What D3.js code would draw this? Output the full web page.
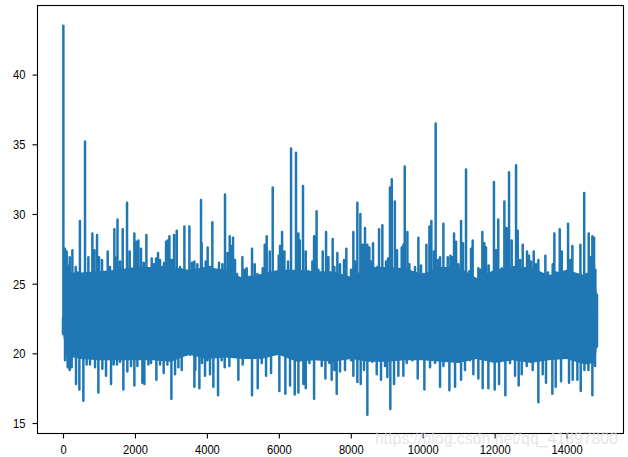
<!DOCTYPE html>
<html><head><meta charset="utf-8">
<script src="https://cdn.jsdelivr.net/npm/d3@7/dist/d3.min.js"></script>
<style>
html,body{margin:0;padding:0;background:#fff}
svg{display:block}
.tick text{font-family:"Liberation Sans",Arial,sans-serif;font-size:13.5px;fill:#000}
</style></head><body><div id="chart"></div>
<script>
// Upper envelope of the signal
const upperIndex=[10,56,102,130,186,260,306,353,408,470,566,612,705,751,816,872,946,1002,1085,1141,1243,1307,1354,1428,1484,1515,1586,1660,1715,1780,1854,1929,1984,2040,2096,2170,2244,2318,2392,2466,2531,2587,2642,2698,2754,2809,2865,2911,2958,3023,3088,3162,3254,3310,3375,3449,3514,3588,3653,
3735,3837,3855,3902,3967,4022,4087,4152,4226,4337,4430,4504,4578,4634,4671,4727,4782,4838,4940,4987,5051,5107,5181,5255,5330,5404,5552,5608,5663,5747,5830,5895,5997,6034,6090,6155,6256,6340,6477,6544,6581,6636,6672,6748,6822,6933,6980,7050,7100,7146,7220,7313,7378,
7497,7544,7627,7701,7812,7877,7951,8007,8072,8118,8183,8267,8331,8396,8461,8517,8554,8619,8684,8739,8786,8878,8980,9036,9090,9140,9225,9286,9342,9416,9462,9500,9574,9630,9722,9787,9880,9954,10028,10102,10186,10241,10315,10360,10427,10482,10575,10649,10695,10770,10825,10871,10927,10992,11066,11120,
11204,11297,11343,11389,11454,11547,11612,11658,11714,11760,11834,11890,11980,12038,12100,12196,12270,12335,12400,12474,12539,12595,12641,12706,12780,12845,12900,12956,13011,13086,13150,13215,13290,13355,13410,13484,13540,13614,13660,13725,13809,13865,13929,14041,14096,14161,14254,14319,14384,14448,14490,14560,14615,14671,14717,14764,14800,14845];
const upperValue=[43.5,27.5,27.3,26.3,26.9,27.4,25.5,26.2,25.8,29.5,25.2,35.2,26.9,25.6,28.6,27.4,28.5,26.9,26.7,25.4,27.3,26.2,25.6,28.9,26.9,29.6,26.6,28.9,25.0,30.8,27.3,25.7,28.6,28.0,28.1,27.5,26.5,28.5,25.4,26.8,26.4,26.8,27.2,26.7,26.2,26.5,28.0,28.1,28.4,26.7,28.5,28.8,26.2,26.0,29.1,25.7,29.1,26.5,26.6,
26.4,31.0,27.9,26.1,26.6,27.6,26.2,29.4,25.4,26.5,26.4,31.4,27.2,28.4,27.7,28.3,26.7,25.7,24.8,26.9,26.0,26.1,25.5,27.5,26.4,25.7,26.1,27.8,28.4,27.3,31.9,25.2,27.0,27.7,28.7,27.3,26.6,34.7,34.4,28.6,28.1,25.7,32.0,27.3,25.9,26.6,28.4,30.2,26.0,25.4,27.3,28.7,26.9,
28.2,26.2,27.2,26.4,26.7,27.5,25.1,26.0,28.7,26.6,30.8,30.0,27.8,29.0,27.8,27.6,26.6,27.9,25.6,26.2,28.9,29.2,26.6,26.8,31.9,32.5,30.9,27.4,25.1,27.6,27.8,33.4,28.7,26.4,24.6,26.2,28.3,26.3,25.7,27.8,29.1,29.5,27.3,36.5,26.7,26.9,29.3,25.7,26.9,27.0,26.9,28.6,28.0,26.4,29.5,27.9,
33.2,25.9,27.5,28.1,24.8,26.1,26.0,28.7,27.9,27.6,26.3,25.5,32.3,27.4,29.6,26.1,30.9,29.0,33.0,28.1,26.2,33.5,28.8,26.7,27.8,26.0,27.3,27.0,26.6,27.3,26.4,26.7,24.6,25.6,27.0,25.8,25.2,26.4,28.6,25.8,28.9,27.3,25.2,29.3,26.7,27.7,25.5,24.9,27.8,24.9,31.5,25.7,28.6,26.9,28.4,28.3,26.0,24.2];
// Lower envelope of the signal
const lowerIndex=[0,56,130,186,241,362,455,566,658,751,890,983,1094,1196,1335,1410,1502,1586,1678,1789,1891,1984,2068,2207,2262,2373,2447,2596,2698,2799,2902,3013,3115,3208,3300,3440,3532,3653,
3679,3791,3865,3948,4013,4087,4180,4310,4412,4495,4625,4764,4875,4996,5107,5255,5413,5524,5645,5784,5904,6015,6182,6312,6442,6544,6683,6748,6850,6980,7081,7193,7295,7406,
7469,7544,7609,7701,7840,8007,8072,8183,8276,8368,8461,8600,8721,8841,8953,9017,9100,9203,9323,9462,9555,9713,9861,10046,10204,10343,10482,10575,10742,10899,11066,
11176,11315,11408,11547,11667,11825,12001,12122,12298,12427,12567,12668,12752,12891,13058,13215,13336,13428,13604,13697,13846,13939,14068,14170,14300,14393,14495,14606,14717,14791,14845];
const lowerValue=[21.4,19.5,19.0,18.8,19.0,17.8,17.4,16.6,19.2,19.2,19.0,17.2,18.9,18.4,17.8,19.2,19.2,19.4,17.4,18.7,19.1,17.7,19.1,17.9,17.8,19.2,19.3,18.1,19.2,18.6,19.2,16.75,18.5,19.0,18.8,19.9,19.9,17.6,
18.8,17.5,19.3,18.4,19.5,18.5,17.6,17.0,19.5,19.0,19.1,20.0,18.1,19.2,20.1,17.0,17.5,19.3,18.4,18.6,20.0,17.3,17.1,17.7,17.05,17.2,17.8,17.5,19.3,16.75,19.6,19.1,18.2,19.3,
18.1,18.8,17.1,18.7,18.8,19.5,18.4,17.95,17.8,18.8,15.6,19.4,18.5,18.1,19.1,18.3,16.0,17.8,18.4,18.4,19.3,19.5,18.2,17.4,19.0,19.3,17.6,19.1,17.35,17.6,18.1,
18.8,19.5,18.5,18.2,17.5,17.5,17.4,17.8,17.0,19.3,18.4,17.7,18.5,19.1,18.8,16.5,18.5,17.9,17.1,17.6,18.0,19.7,17.9,18.1,18.1,17.3,18.8,18.8,17.0,19.1,20.5];
// Always-filled core band of the signal
const coreIndex=[0,100,500,1000,1500,2000,2500,3000,3500,4000,4500,5000,5500,6000,6500,7000,7500,8000,8500,9000,9500,10000,10500,11000,11500,12000,12500,13000,13500,14000,14500,14790,14845];
const coreHigh=[24.8,25.8,25.8,25.9,26,26.2,26.2,26.2,26,26.2,26,25.4,25.7,26,26,25.9,25.9,25.5,26.2,26.2,26.1,25.7,26.2,26.2,25.4,26,26.2,26.2,25.6,26,25.6,25.2,24.2];
const coreLow=[21.4,19.8,19.6,19.5,19.5,19.5,19.5,19.4,19.9,19.6,19.7,19.6,19.6,19.9,19.4,19.5,19.4,19.6,19.4,19.4,19.5,19.5,19.4,19.3,19.6,19.3,19.5,19.3,19.5,19.6,19.2,19.3,20.5];
const xTicks=[0,2000,4000,6000,8000,10000,12000,14000];
const yTicks=[15,20,25,30,35,40];
const watermark="https://blog.csdn.net/qq_41897800";

const W=628,H=457,m={l:37.5,r:623.5,t:5.5,b:433.5};
const x=d3.scaleLinear().domain([-709,15582]).range([m.l,m.r]);
const y=d3.scaleLinear().domain([14.25,44.96]).range([m.b,m.t]);
const svg=d3.select("#chart").append("svg").attr("width",W).attr("height",H);
const blue="#1f77b4";

svg.append("path").datum(coreIndex.map((d,i)=>[d,coreHigh[i],coreLow[i]]))
  .attr("fill",blue)
  .attr("d",d3.area().x(d=>x(d[0])).y0(d=>y(d[2])).y1(d=>y(d[1])));

const mid=22.5;
const spikes=(ix,vals)=>ix.flatMap((d,i)=>[[d,mid],[d,vals[i]],[d,mid]]);
const line=d3.line().x(d=>x(d[0])).y(d=>y(d[1]));
[[upperIndex,upperValue],[lowerIndex,lowerValue]].forEach(([a,b])=>{
  svg.append("path").datum(spikes(a,b)).attr("fill","none").attr("stroke",blue)
    .attr("stroke-width",2.5).attr("stroke-linejoin","round").attr("d",line);
});

const gx=svg.append("g").attr("transform",`translate(0,${m.b})`)
  .call(d3.axisBottom(x).tickValues(xTicks).tickFormat(d3.format("d")).tickSize(5).tickPadding(6));
const gy=svg.append("g").attr("transform",`translate(${m.l},0)`)
  .call(d3.axisLeft(y).tickValues(yTicks).tickFormat(d3.format("d")).tickSize(5).tickPadding(7));
[gx,gy].forEach(g=>{
  g.select(".domain").remove();
  g.selectAll("line").attr("stroke","#000").attr("stroke-width",1.1);
  g.selectAll("text").attr("textLength",d=>String(d).length*6.2).attr("lengthAdjust","spacingAndGlyphs");
});
svg.append("rect").attr("x",m.l).attr("y",m.t).attr("width",m.r-m.l).attr("height",m.b-m.t)
  .attr("fill","none").attr("stroke","#000").attr("stroke-width",1.1);

svg.append("text").attr("x",375).attr("y",444).attr("textLength",243).attr("lengthAdjust","spacingAndGlyphs")
  .attr("font-family","Liberation Sans,Arial,sans-serif").attr("font-size",17)
  .attr("fill","#dcdcdc").attr("fill-opacity",0.75).text(watermark);
</script></body></html>
